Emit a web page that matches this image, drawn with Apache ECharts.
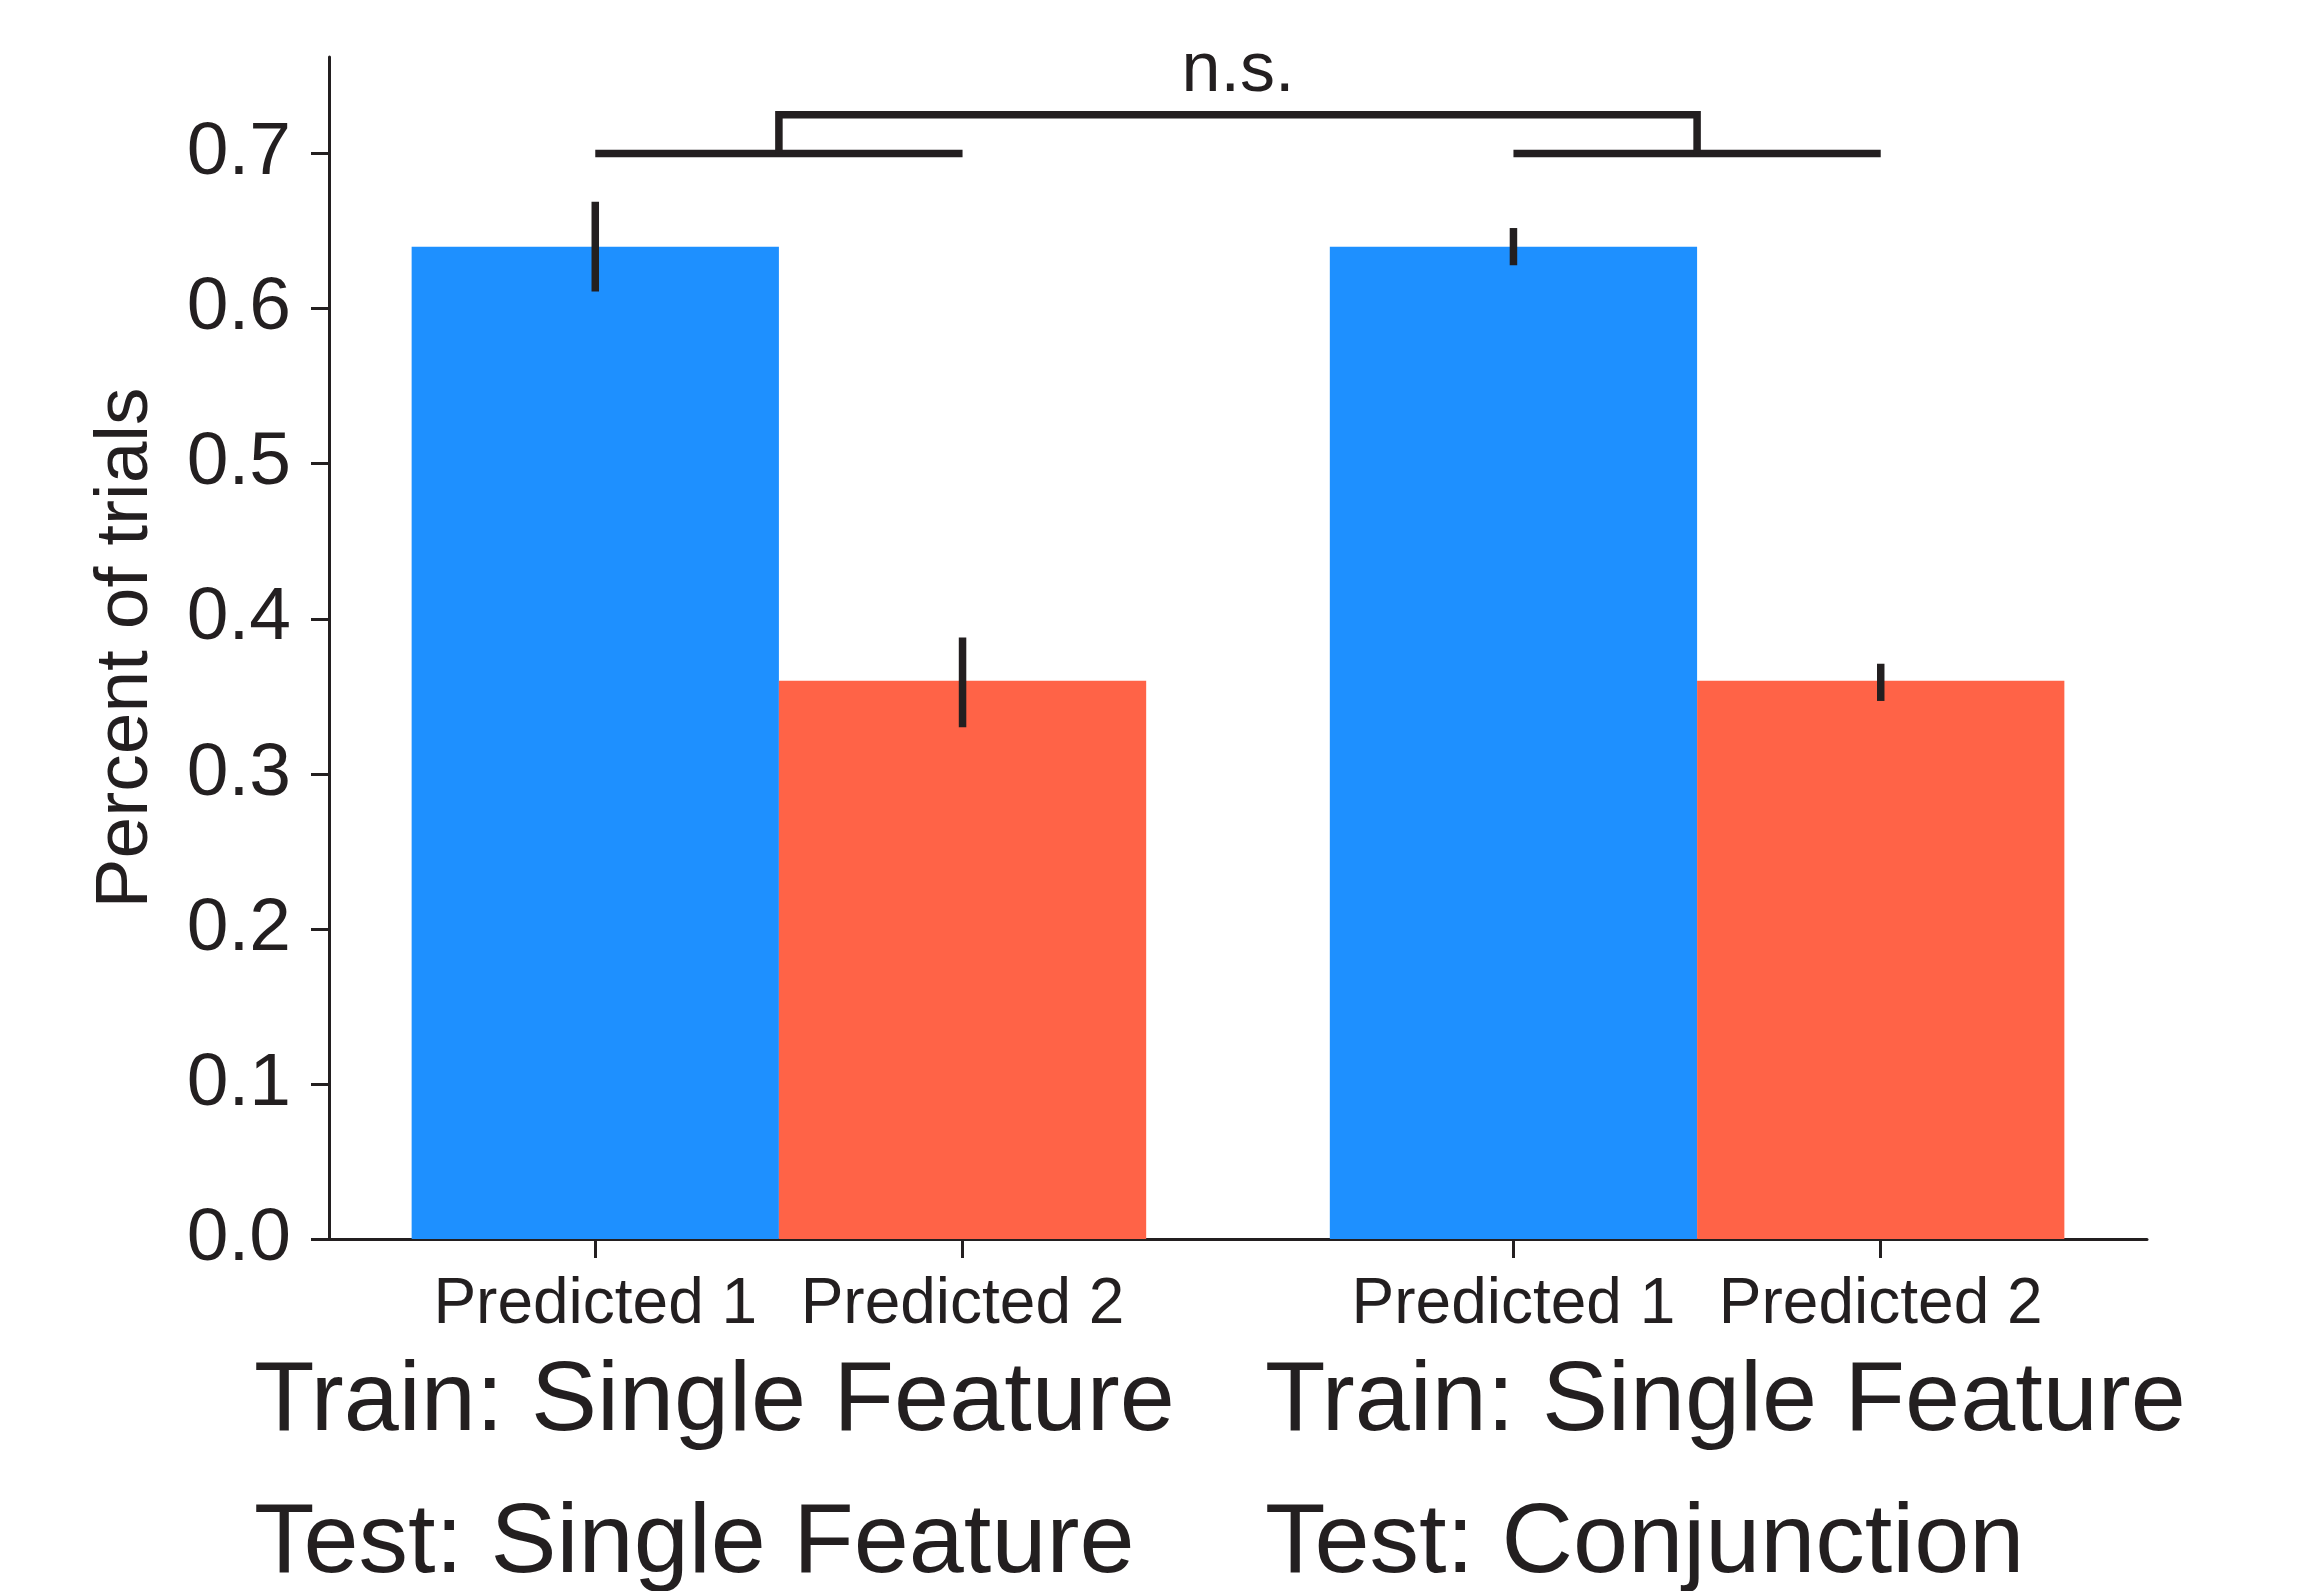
<!DOCTYPE html>
<html>
<head>
<meta charset="utf-8">
<script src="https://cdn.jsdelivr.net/npm/echarts@6/dist/echarts.min.js"></script>
<style>
  html, body { margin: 0; padding: 0; background: #fff; }
  #chart { width: 2313px; height: 1591px; }
</style>
</head>
<body>
<div id="chart"></div>
<script>
// data
const hueLabels = ['Predicted 1', 'Predicted 2'];
const trainLabels = ['Train: Single Feature', 'Train: Single Feature'];
const testLabels = ['Test: Single Feature', 'Test: Conjunction'];
const predicted1 = [0.640, 0.640];
const predicted2 = [0.360, 0.360];
const predicted1Low = [0.611, 0.628];
const predicted1High = [0.669, 0.652];
const predicted2Low = [0.330, 0.347];
const predicted2High = [0.388, 0.371];
const yTicks = [0, 0.1, 0.2, 0.3, 0.4, 0.5, 0.6, 0.7];
const bracketGroups = [0, 1];
const bracketBase = 0.7;
const bracketTop = 0.725;
const bracketLabel = 'n.s.';

const INK = '#231f20';
const FONT = 'Liberation Sans, Arial, sans-serif';
const BAR_W = 0.4;

// bar centre on the x scale: group index +/- half a bar
function barX(group, hue) {
  return group + (hue - 0.5) * BAR_W;
}

const xTicks = [];
trainLabels.forEach((_, g) => hueLabels.forEach((_, h) => xTicks.push(barX(g, h))));

function hueData(values) {
  return values.map((v, g) => [g, v]);
}

const chart = echarts.init(document.getElementById('chart'));

function barSeries(name, hue, values, color) {
  return {
    name: name,
    type: 'custom',
    z: 2,
    data: hueData(values),
    renderItem(params, api) {
      const x = barX(api.value(0), hue);
      const p0 = api.coord([x - BAR_W / 2, 0]);
      const p1 = api.coord([x + BAR_W / 2, api.value(1)]);
      return {
        type: 'rect',
        shape: { x: p0[0], y: p1[1], width: p1[0] - p0[0], height: p0[1] - p1[1] },
        style: { fill: color }
      };
    }
  };
}

const errRows = [];
trainLabels.forEach((_, g) => {
  errRows.push([barX(g, 0), predicted1Low[g], predicted1High[g]]);
  errRows.push([barX(g, 1), predicted2Low[g], predicted2High[g]]);
});

const bottomText = (txt, left, top) => ({
  type: 'text', left: left, top: top,
  style: { text: txt, fontSize: 99, fontFamily: FONT, fill: INK }
});

const option = {
  animation: false,
  backgroundColor: '#ffffff',
  textStyle: { fontFamily: FONT, color: INK },
  grid: { left: 329, right: 166, top: 57, bottom: 352 },
  xAxis: {
    type: 'value',
    min: -0.49,
    max: 1.49,
    splitLine: { show: false },
    axisLine: { show: true, onZero: false, lineStyle: { color: INK, width: 3 } },
    axisTick: { show: true, customValues: xTicks, length: 19, lineStyle: { color: INK, width: 3 } },
    axisLabel: {
      customValues: xTicks,
      fontSize: 64,
      fontFamily: FONT,
      color: INK,
      margin: 34,
      formatter: v => hueLabels[Math.round((v - Math.floor(v + 0.5)) / BAR_W + 0.5)]
    }
  },
  yAxis: {
    type: 'value',
    min: 0,
    max: 0.7623,
    interval: 0.1,
    name: 'Percent of trials',
    nameLocation: 'middle',
    nameGap: 165,
    nameTextStyle: { fontSize: 75, fontFamily: FONT, color: INK },
    splitLine: { show: false },
    axisLine: { show: true, onZero: false, lineStyle: { color: INK, width: 3 } },
    axisTick: { show: true, customValues: yTicks, length: 18, lineStyle: { color: INK, width: 3 } },
    axisLabel: {
      customValues: yTicks,
      fontSize: 75,
      fontFamily: FONT,
      color: INK,
      margin: 38,
      formatter: v => v.toFixed(1)
    }
  },
  graphic: [
    bottomText(trainLabels[0], 254, 1353),
    bottomText(testLabels[0], 254, 1495),
    bottomText(trainLabels[1], 1265, 1353),
    bottomText(testLabels[1], 1265, 1495)
  ],
  series: [
    barSeries(hueLabels[0], 0, predicted1, '#1e90ff'),
    barSeries(hueLabels[1], 1, predicted2, '#ff6347'),
    {
      name: 'error',
      type: 'custom',
      z: 3,
      data: errRows,
      renderItem(params, api) {
        const a = api.coord([api.value(0), api.value(1)]);
        const b = api.coord([api.value(0), api.value(2)]);
        return {
          type: 'line',
          shape: { x1: a[0], y1: a[1], x2: b[0], y2: b[1] },
          style: { stroke: INK, lineWidth: 7.5 }
        };
      }
    },
    {
      name: 'bracket',
      type: 'custom',
      z: 3,
      data: [[bracketGroups[0], bracketGroups[1], bracketBase, bracketTop]],
      renderItem(params, api) {
        const g0 = api.value(0), g1 = api.value(1);
        const base = api.value(2), top = api.value(3);
        const sty = { stroke: INK, lineWidth: 7.5, fill: null };
        const children = [];
        [g0, g1].forEach(g => {
          children.push({
            type: 'polyline',
            shape: { points: [api.coord([barX(g, 0), base]), api.coord([barX(g, 1), base])] },
            style: sty
          });
        });
        children.push({
          type: 'polyline',
          shape: { points: [api.coord([g0, base]), api.coord([g0, top]), api.coord([g1, top]), api.coord([g1, base])] },
          style: Object.assign({}, sty, { lineJoin: 'miter' })
        });
        const mid = api.coord([(g0 + g1) / 2, top]);
        children.push({
          type: 'text',
          style: {
            text: bracketLabel, x: mid[0], y: mid[1] - 8,
            align: 'center', verticalAlign: 'bottom',
            fontSize: 70, fontFamily: FONT, fill: INK
          }
        });
        return { type: 'group', children: children };
      }
    }
  ]
};

chart.setOption(option);
</script>
</body>
</html>
